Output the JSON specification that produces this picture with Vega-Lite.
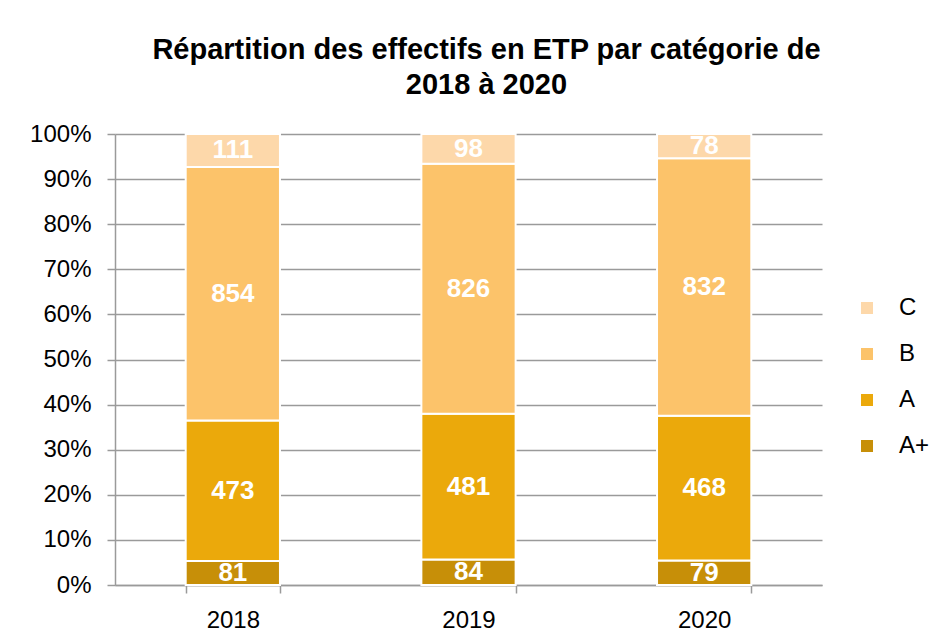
{
  "$schema": "https://vega.github.io/schema/vega-lite/v6.json",
  "width": 707,
  "height": 451,
  "autosize": {"type": "none"},
  "padding": {"left": 115, "top": 134, "right": 126, "bottom": 59},
  "background": "white",
  "title": {
    "text": ["Répartition des effectifs en ETP par catégorie de", "2018 à 2020"],
    "font": "Liberation Sans",
    "fontSize": 29,
    "fontWeight": "bold",
    "color": "#000000",
    "lineHeight": 35,
    "anchor": "middle",
    "frame": "group",
    "dx": 18,
    "offset": 22
  },
  "data": {
    "values": [
      {"year": "2018", "cat": "A+", "value": 81, "ord": 1},
      {"year": "2018", "cat": "A", "value": 473, "ord": 2},
      {"year": "2018", "cat": "B", "value": 854, "ord": 3},
      {"year": "2018", "cat": "C", "value": 111, "ord": 4},
      {"year": "2019", "cat": "A+", "value": 84, "ord": 1},
      {"year": "2019", "cat": "A", "value": 481, "ord": 2},
      {"year": "2019", "cat": "B", "value": 826, "ord": 3},
      {"year": "2019", "cat": "C", "value": 98, "ord": 4},
      {"year": "2020", "cat": "A+", "value": 79, "ord": 1},
      {"year": "2020", "cat": "A", "value": 468, "ord": 2},
      {"year": "2020", "cat": "B", "value": 832, "ord": 3},
      {"year": "2020", "cat": "C", "value": 78, "ord": 4}
    ]
  },
  "encoding": {
    "x": {
      "field": "year",
      "type": "nominal",
      "scale": {"paddingInner": 0.6, "paddingOuter": 0.3},
      "axis": {
        "title": null,
        "labelAngle": 0,
        "labelFont": "Liberation Sans",
        "labelFontSize": 24,
        "labelColor": "#000000",
        "labelPadding": 15,
        "tickBand": "extent",
        "tickSize": 8,
        "tickColor": "#9a9a9a",
        "domainColor": "#9a9a9a",
        "domainWidth": 1.5,
        "tickWidth": 1.5,
        "grid": false
      }
    }
  },
  "layer": [
    {
      "mark": {"type": "bar", "stroke": "white", "strokeWidth": 2},
      "encoding": {
        "y": {
          "field": "value",
          "type": "quantitative",
          "stack": "normalize",
          "scale": {"domain": [0, 1]},
          "axis": {
            "title": null,
            "values": [0, 0.1, 0.2, 0.3, 0.4, 0.5, 0.6, 0.7, 0.8, 0.9, 1],
            "format": ".0%",
            "labelFont": "Liberation Sans",
            "labelFontSize": 24,
            "labelColor": "#000000",
            "labelPadding": 16,
            "tickSize": 8,
            "tickColor": "#9a9a9a",
            "tickWidth": 1.5,
            "domainColor": "#9a9a9a",
            "domainWidth": 1.5,
            "grid": true,
            "gridColor": "#9a9a9a",
            "gridWidth": 1.5
          }
        },
        "color": {
          "field": "cat",
          "type": "nominal",
          "scale": {
            "domain": ["C", "B", "A", "A+"],
            "range": ["#FDD8AA", "#FCC36A", "#EBA90B", "#C78F08"]
          },
          "legend": {
            "title": null,
            "orient": "none",
            "legendX": 740,
            "legendY": 162,
            "symbolType": "square",
            "symbolSize": 144,
            "symbolStrokeWidth": 0,
            "labelFont": "Liberation Sans",
            "labelFontSize": 24,
            "labelColor": "#000000",
            "labelOffset": 20,
            "rowPadding": 22,
            "padding": 0
          }
        },
        "order": {"field": "ord", "type": "quantitative"}
      }
    },
    {
      "mark": {
        "type": "text",
        "color": "white",
        "font": "Liberation Sans",
        "fontSize": 26,
        "fontWeight": "bold",
        "baseline": "middle",
        "align": "center"
      },
      "encoding": {
        "y": {"field": "value", "type": "quantitative", "stack": "normalize", "bandPosition": 0.5},
        "detail": {"field": "cat"},
        "order": {"field": "ord", "type": "quantitative"},
        "text": {"field": "value", "type": "quantitative"}
      }
    }
  ],
  "config": {"view": {"stroke": null}}
}
